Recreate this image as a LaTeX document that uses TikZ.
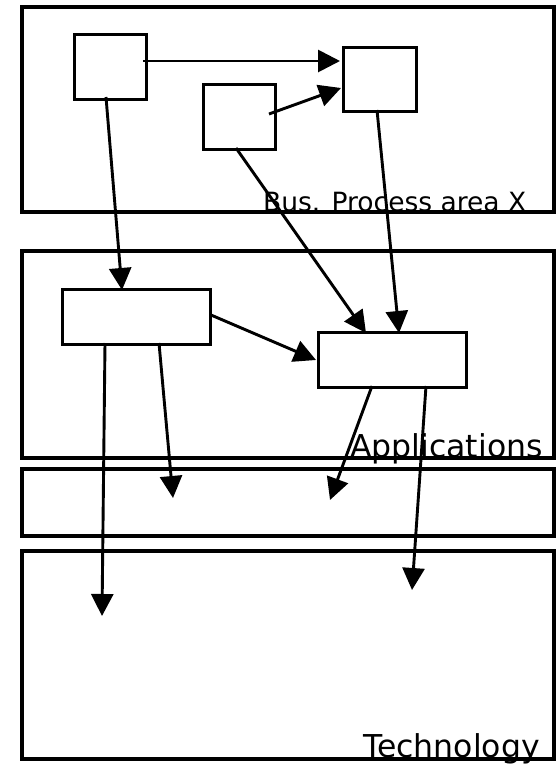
\documentclass[tikz,border=0pt]{standalone}
\usepackage{fontspec}
\setmainfont{DejaVu Sans}
\usetikzlibrary{arrows.meta}
\begin{document}
\begin{tikzpicture}[x=1pt,y=-1pt,
  frame/.style={draw,line width=3.2pt},
  box/.style={draw,line width=3.2pt},
  conn/.style={line width=2.9pt,-{Triangle[length=22pt,width=22pt]}},
  lbl/.style={anchor=base west,inner sep=0pt}]
\useasboundingbox (0,0) rectangle (558,764);
% layer frames
\draw[frame] (22,7) rectangle (554,212);
\draw[frame] (22,251) rectangle (554,458);
\draw[frame] (22,469) rectangle (554,536);
\draw[frame] (22,551) rectangle (554,759);
\node[lbl,font=\fontsize{26.5}{30}\selectfont] (tBus) at (263,211) {Bus. Process area X};
\node[lbl,font=\fontsize{31.5}{36}\selectfont] (tApp) at (350,457) {Applications};
\node[lbl,font=\fontsize{31.5}{36}\selectfont] (tTech) at (363,757) {Technology};
% boxes
\node[box,inner sep=0pt,minimum width=72pt,minimum height=65pt,anchor=north west] (A) at (73,33) {};
\node[box,inner sep=0pt,minimum width=73pt,minimum height=64pt,anchor=north west] (B) at (342,46) {};
\node[box,inner sep=0pt,minimum width=72pt,minimum height=65pt,anchor=north west] (C) at (202,83) {};
\node[box,inner sep=0pt,minimum width=148pt,minimum height=55pt,anchor=north west] (D) at (61,288) {};
\node[box,inner sep=0pt,minimum width=148pt,minimum height=55pt,anchor=north west] (E) at (317,331) {};
% connector end points
\coordinate (a1) at (143,61);  \coordinate (b1) at (340,61);
\coordinate (c1) at (269,114); \coordinate (b2) at (341,88);
\coordinate (a2) at (106,97);  \coordinate (d1) at (122,290);
\coordinate (c2) at (236,148); \coordinate (e1) at (366,333);
\coordinate (b3) at (377,110); \coordinate (e2) at (399,333);
\coordinate (d2) at (211,315); \coordinate (e3) at (316,360);
\coordinate (d3) at (105,343); \coordinate (t1) at (102,616);
\coordinate (d4) at (159,343); \coordinate (m1) at (173,498);
\coordinate (e4) at (372,386); \coordinate (m2) at (330,500);
\coordinate (e5) at (426,386); \coordinate (t2) at (412,590);
\draw[conn] (a1) -- (b1);
\draw[conn] (c1) -- (b2);
\draw[conn] (a2) -- (d1);
\draw[conn] (c2) -- (e1);
\draw[conn] (b3) -- (e2);
\draw[conn] (d2) -- (e3);
\draw[conn] (d3) -- (t1);
\draw[conn] (d4) -- (m1);
\draw[conn] (e4) -- (m2);
\draw[conn] (e5) -- (t2);
\end{tikzpicture}
\end{document}
